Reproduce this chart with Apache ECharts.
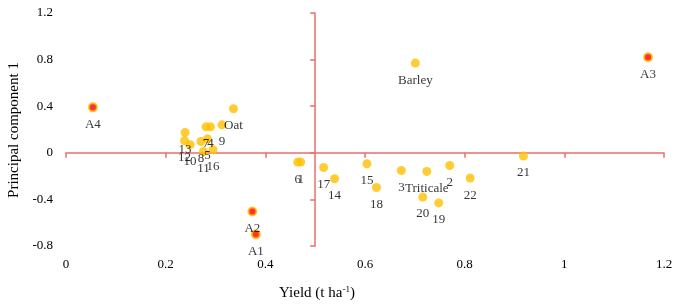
<!DOCTYPE html>
<html>
<head>
<meta charset="utf-8">
<script src="https://cdn.jsdelivr.net/npm/echarts@6/dist/echarts.min.js"></script>
<style>
  html, body { margin: 0; padding: 0; background: #fff; }
  #chart { width: 676px; height: 307px; }
</style>
</head>
<body>
<div id="chart"></div>
<script>
// genotypes + crop means
const pointNames = ['1', '6', '2', '3', '4', '5', '7', '8', '9', '10', '11', '12', '13', '14', '15', '16', '17', '18', '19', '20', '21', '22', 'Barley', 'Oat', 'Triticale'];
const pointYield = [0.471, 0.465, 0.770, 0.673, 0.290, 0.284, 0.281, 0.271, 0.313, 0.249, 0.276, 0.238, 0.239, 0.539, 0.604, 0.295, 0.517, 0.623, 0.748, 0.716, 0.918, 0.811, 0.701, 0.336, 0.724];
const pointPC1 = [-0.08, -0.08, -0.109, -0.152, 0.223, 0.12, 0.223, 0.097, 0.24, 0.069, 0.011, 0.103, 0.174, -0.223, -0.094, 0.026, -0.126, -0.298, -0.43, -0.38, -0.028, -0.217, 0.77, 0.378, -0.16];

// environments
const envNames = ['A1', 'A2', 'A3', 'A4'];
const envYield = [0.381, 0.374, 1.168, 0.054];
const envPC1 = [-0.70, -0.504, 0.82, 0.39];

const xTicks = { min: 0, max: 1.2, interval: 0.2 };
const yTicks = { min: -0.8, max: 1.2, interval: 0.4 };

const serif = '"Liberation Serif", "Times New Roman", serif';
const axisRed = '#EB6E6E';
const gold = '#FFC000';

const chart = echarts.init(document.getElementById('chart'));

const labelStyle = {
  show: true,
  position: 'bottom',
  distance: 6,
  formatter: '{b}',
  color: '#000',
  fontFamily: serif,
  fontSize: 13
};

chart.setOption({
  animation: false,
  backgroundColor: '#fff',
  grid: { left: 66, right: 12, top: 13, bottom: 61 },
  xAxis: [
    {
      type: 'value', min: xTicks.min, max: xTicks.max, interval: xTicks.interval,
      axisLine: { show: false }, axisTick: { show: false }, splitLine: { show: false },
      axisLabel: { color: '#000', fontFamily: serif, fontSize: 13, margin: 12 }
    },
    {
      // red horizontal line through y = 0
      type: 'value', position: 'top', min: xTicks.min, max: xTicks.max, interval: xTicks.interval,
      axisLine: { show: true, onZero: true, onZeroAxisIndex: 0, lineStyle: { color: axisRed, width: 1.5 } },
      axisTick: { show: true, inside: true, length: 5, lineStyle: { color: axisRed, width: 1.5 } },
      axisLabel: { show: false }, splitLine: { show: false }
    },
    {
      // shifted helper scale so the vertical line sits at yield 0.5
      type: 'value', show: false, min: -0.5, max: 0.7
    }
  ],
  yAxis: [
    {
      type: 'value', min: yTicks.min, max: yTicks.max, interval: yTicks.interval,
      axisLine: { show: false }, axisTick: { show: false }, splitLine: { show: false },
      axisLabel: { color: '#000', fontFamily: serif, fontSize: 13, margin: 13 }
    },
    {
      type: 'value', position: 'right', min: yTicks.min, max: yTicks.max, interval: yTicks.interval,
      axisLine: { show: true, onZero: true, onZeroAxisIndex: 2, lineStyle: { color: axisRed, width: 1.5 } },
      axisTick: { show: true, inside: true, length: 5, lineStyle: { color: axisRed, width: 1.5 } },
      axisLabel: { show: false }, splitLine: { show: false }
    }
  ],
  graphic: [
    {
      type: 'text', x: 14, y: 130, rotation: Math.PI / 2,
      style: {
        text: 'Principal component 1', fill: '#000', font: '15px ' + serif,
        align: 'center', verticalAlign: 'middle'
      }
    },
    {
      type: 'text', x: 317, y: 293,
      style: {
        text: 'Yield (t ha{sup|-1})', fill: '#000', font: '15px ' + serif,
        align: 'center', verticalAlign: 'middle',
        rich: { sup: { fontSize: 9, fontFamily: serif, verticalAlign: 'top', fill: '#000' } }
      }
    }
  ],
  series: [
    {
      name: 'genotypes',
      type: 'scatter',
      symbolSize: 9,
      itemStyle: { color: gold },
      label: labelStyle,
      data: pointNames.map((n, i) => ({ name: n, value: [pointYield[i], pointPC1[i]] }))
    },
    {
      name: 'environments',
      type: 'scatter',
      symbolSize: 8,
      itemStyle: { color: '#FF0000', borderColor: gold, borderWidth: 2 },
      label: labelStyle,
      data: envNames.map((n, i) => ({ name: n, value: [envYield[i], envPC1[i]] }))
    }
  ]
});
window.addEventListener('resize', () => chart.resize());
</script>
</body>
</html>
